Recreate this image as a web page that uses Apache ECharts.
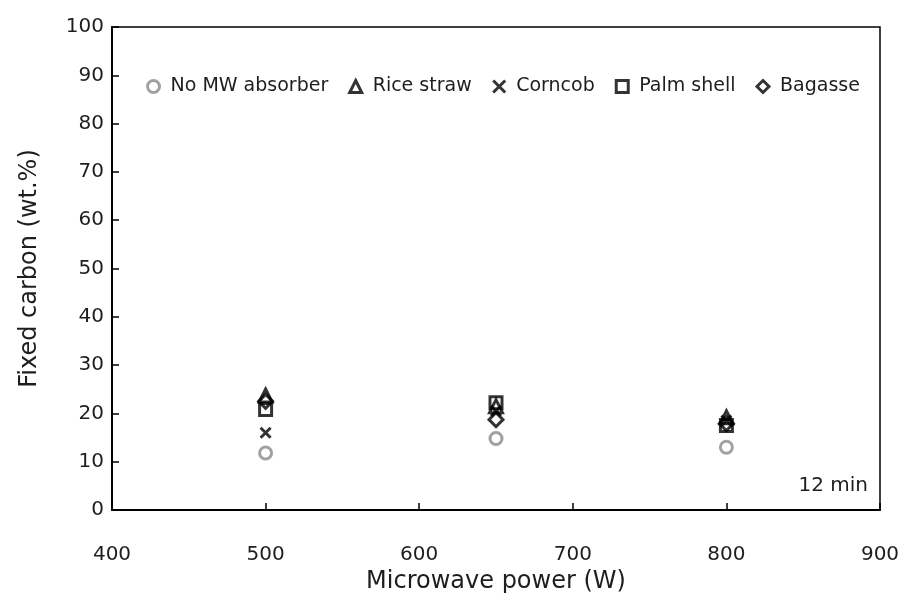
<!DOCTYPE html>
<html>
<head>
<meta charset="utf-8">
<script src="https://cdn.jsdelivr.net/npm/echarts@6/dist/echarts.min.js"></script>
<style>
  html, body { margin: 0; padding: 0; background: #fff; }
  #chart { width: 904px; height: 595px; }
</style>
</head>
<body>
<div id="chart"></div>
<script>
// Microwave power levels (W)
const powers = [500, 650, 800];

// Fixed carbon (wt.%) for each absorber
const noAbsorber = [11.8, 14.8, 13.0];
const riceStraw  = [23.7, 21.5, 19.2];
const corncob    = [16.0, 20.5, 18.5];
const palmShell  = [20.8, 22.2, 17.5];
const bagasse    = [22.5, 18.7, 17.9];

const seriesNames = ['No MW absorber', 'Rice straw', 'Corncob', 'Palm shell', 'Bagasse'];

const FONT = '"DejaVu Sans", "Noto Sans", sans-serif';
const TEXT = '#1e1e1e';

function pairs(values) {
  return powers.map((p, i) => [p, values[i]]);
}

function scatter(name, values, symbol, size, color, width) {
  return {
    name: name,
    type: 'scatter',
    data: pairs(values),
    symbol: symbol,
    symbolSize: size,
    itemStyle: { color: 'transparent', borderColor: color, borderWidth: width },
    emphasis: { disabled: true }
  };
}

const chart = echarts.init(document.getElementById('chart'), null, { renderer: 'canvas' });

chart.setOption({
  animation: false,
  backgroundColor: '#fff',
  textStyle: { fontFamily: FONT },
  grid: {
    left: 112, right: 24, top: 27, bottom: 85,
    outerBoundsMode: 'none',
    containLabel: false,
    show: true, borderColor: '#000', borderWidth: 1.5, backgroundColor: 'transparent'
  },
  legend: {
    top: 72, left: 141,
    itemWidth: 12, itemHeight: 12, itemGap: 20,
    itemStyle: { borderWidth: 3 },
    textStyle: { fontFamily: FONT, fontSize: 19, color: TEXT, padding: [0, 0, 0, 6] },
    data: seriesNames
  },
  xAxis: {
    type: 'value', min: 400, max: 900, interval: 100,
    name: 'Microwave power (W)', nameLocation: 'middle', nameGap: 54,
    nameTextStyle: { fontFamily: FONT, fontSize: 24, color: TEXT },
    axisLine: { lineStyle: { color: '#000', width: 2 } },
    axisTick: { inside: true, length: 7, lineStyle: { color: '#000', width: 1.5 } },
    axisLabel: { margin: 35, fontSize: 20, color: TEXT, fontFamily: FONT },
    splitLine: { show: false }
  },
  yAxis: {
    type: 'value', min: 0, max: 100, interval: 10,
    name: 'Fixed carbon (wt.%)', nameLocation: 'middle', nameGap: 70,
    nameTextStyle: { fontFamily: FONT, fontSize: 24, color: TEXT },
    axisLine: { lineStyle: { color: '#000', width: 2 } },
    axisTick: { inside: true, length: 7, lineStyle: { color: '#000', width: 1.5 } },
    axisLabel: { margin: 8, fontSize: 20, color: TEXT, fontFamily: FONT },
    splitLine: { show: false }
  },
  graphic: [{
    type: 'text',
    right: 36, top: 476,
    style: { text: '12 min', font: '20px ' + FONT, fill: TEXT }
  }],
  series: [
    scatter('No MW absorber', noAbsorber, 'circle', 12, '#8a8a8a', 3),
    scatter('Rice straw', riceStraw, 'triangle', 13, '#000', 3),
    scatter('Corncob', corncob, 'path://M0,0L10,10M10,0L0,10', 10, '#000', 3),
    scatter('Palm shell', palmShell, 'rect', 12, '#000', 3),
    scatter('Bagasse', bagasse, 'diamond', 14, '#000', 3)
  ]
});
</script>
</body>
</html>
